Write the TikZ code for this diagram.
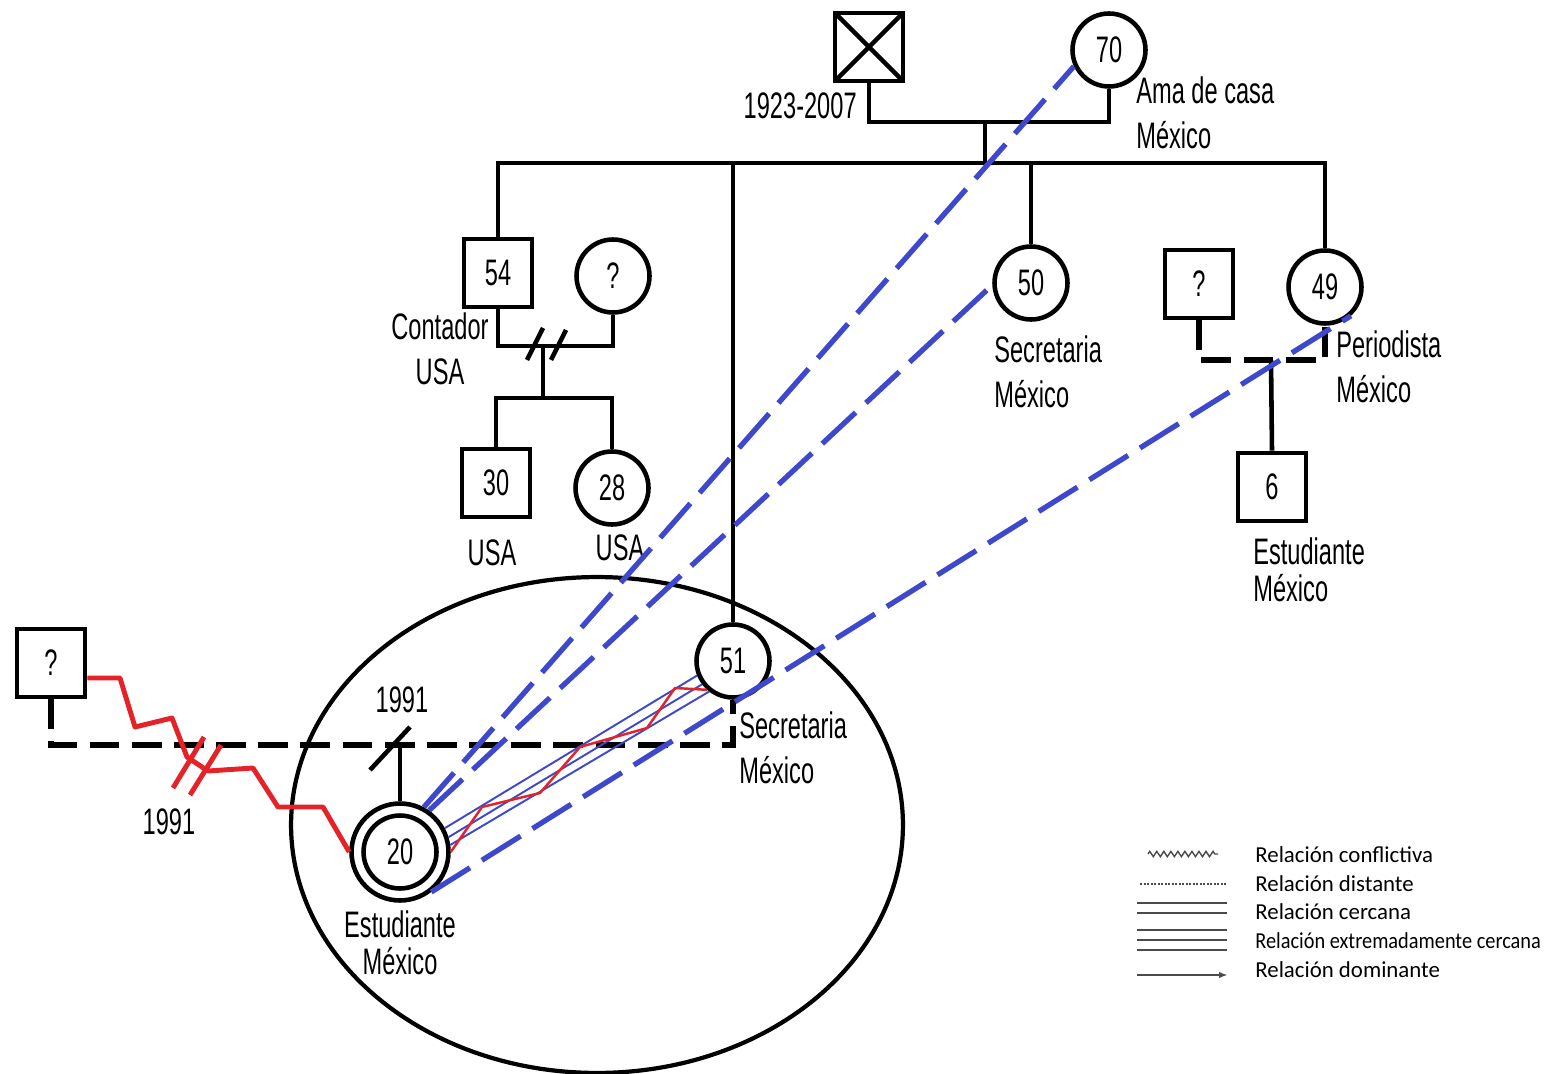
\documentclass[tikz,border=0pt]{standalone}
\usepackage{fontspec}
\setmainfont[FakeStretch=0.64]{Liberation Sans}
\newfontfamily\legfont{Carlito}
\usetikzlibrary{positioning, calc, arrows.meta, decorations.pathmorphing}
\definecolor{relBlue}{RGB}{62, 72, 204}
\definecolor{relRed}{RGB}{228, 34, 40}
\definecolor{legGray}{RGB}{75, 75, 75}
\tikzset{
    x=0.02cm, y=-0.02cm,
    font=\fontsize{21}{25.5}\selectfont,
    %
    % personas
    person/.style={draw, fill=white, line width=2.6pt, inner sep=0pt, align=center},
    male/.style={person, rectangle, minimum size=1.36cm},
    female/.style={person, circle, minimum size=1.46cm},
    dead/.style={male, path picture={
        \draw[line width=2.6pt] (path picture bounding box.north west) -- (path picture bounding box.south east)
                                (path picture bounding box.south west) -- (path picture bounding box.north east);}},
    indexP/.style={person, circle, minimum size=1.94cm},
    lbl/.style={inner sep=0pt, align=left},
    lblTight/.style={lbl, font=\fontsize{21}{21}\selectfont},
    %
    % lineas de parentesco
    kinLine/.style={line width=2.6pt},
    kinDashed/.style={line width=3.2pt, dash pattern=on 17pt off 7pt},
    %
    % relaciones
    relDistant/.style={relBlue, line width=3pt, dash pattern=on 26pt off 8pt},
    relClose/.style={relBlue, line width=1.1pt},
    relConflict/.style={relRed, line width=2.8pt, line join=round},
    relConflictThin/.style={relRed, line width=1.4pt, line join=round},
    %
    % leyenda
    legTxt/.style={inner sep=0pt, anchor=west, font=\legfont\fontsize{13}{15}\selectfont, text=black},
    legLine/.style={legGray, line width=1.1pt}
}

\begin{document}
\begin{tikzpicture}
\useasboundingbox (0,0) rectangle (1558,1074);

% hogar
\draw[line width=2.4pt] (597,825) ellipse [x radius=6.12cm, y radius=4.96cm];

%% personas
\node (gf)  [dead]   at (869,47)   {};
\node (g70) [female] at (1109,50)  {70};
\node (p54) [male]   at (498,273)  {54};
\node (w54) [female] at (613,276)  {?};
\node (p30) [male]   at (496,483)  {30};
\node (p28) [female] at (612,488)  {28};
\node (p50) [female] at (1031,283) {50};
\node (h49) [male]   at (1199,284) {?};
\node (p49) [female] at (1325,287) {49};
\node (p6)  [male]   at (1272,487) {6};
\node (p51) [female] at (733,661)  {51};
\node (h20) [male]   at (51,663)   {?};
\node (p20) [indexP] at (400,852)  {};
\node (p20in) [female] at (p20)    {20};

%% etiquetas
\node (t1923) [lbl, anchor=east] at (857,106)  {1923-2007};
\node (t70)   [lbl, anchor=west] at (1136,113) {Ama de casa\\México};
\node (t54)   [lbl, align=center] at (440,349) {Contador\\USA};
\node (t30)   [lbl] at (492,553) {USA};
\node (t28)   [lbl] at (620,548) {USA};
\node (t50)   [lbl, anchor=west] at (994,372)  {Secretaria\\México};
\node (t49)   [lbl, anchor=west] at (1336,367) {Periodista\\México};
\node (t6)    [lblTight, anchor=west] at (1253,570) {Estudiante\\México};
\node (t51)   [lbl, anchor=west] at (739,748)  {Secretaria\\México};
\node (t20)   [lblTight, align=center, below=0.16cm of p20] {Estudiante\\México};
\node (tsep)  [lbl] at (402,700) {1991};
\node (tdiv)  [lbl] at (169,822) {1991};

%% parentesco
\coordinate (gm)  at (985,122);
\coordinate (sib) at (985,163);
\coordinate (m54) at (543,346);
\coordinate (c54) at (543,398);
\coordinate (m49) at (1271,360);
\coordinate (m20) at (400,745);
\coordinate (div20) at (197,766);

\draw[kinLine] (gf.south) |- (gm) -| (g70.south);
\draw[kinLine] (gm) -- (sib);
\draw[kinLine] (p54.north) |- (sib) -| (p49.north);
\draw[kinLine] (sib) -| (p50.north);
\draw[kinLine] (p51.north) |- (sib);

\draw[kinLine] (p54.south) |- (m54) -| (w54.south);
\draw[kinLine] ($(m54)+(-16,14)$) -- ++(16,-32);   % divorcio
\draw[kinLine] ($(m54)+(8,14)$) -- ++(15,-30);
\draw[kinLine] (m54) -- (c54);
\draw[kinLine] (p30.north) |- (c54) -| (p28.north);

\draw[kinDashed] (h49.south) |- (m49) -| (p49.south);
\draw[kinLine] (m49) -- (p6.north);

\draw[kinDashed] (h20.south) |- (m20) -| (p51.south);
\draw[kinLine] (m20) -- (p20.north);
\draw[kinLine] ($(m20)+(-30,25)$) -- ($(m20)+(10,-18)$);   % separacion 1991

%% relaciones
\draw[relConflict] ($(h20.east)+(0,15)$) -- (120,678) -- (135,727) -- (172,718) -- (187,757)
    -- (208,771) -- (253,768) -- (278,807) -- (323,807) -- (p20.west);
\draw[relConflict] ($(div20)+(-24,22)$) -- ++(31,-51);
\draw[relConflict] ($(div20)+(-7,29)$) -- ++(31,-50);

\draw[relClose] (p20.28) -- (p51.202);
\draw[relClose] (p20.17) -- (p51.217);
\draw[relClose] (p20.8)  -- (p51.232);
\draw[relConflictThin] (p20.east) -- (482,807) -- (540,793) -- (580,747) -- (647,728) -- (675,688) -- (p51.228);

\draw[relDistant] (p20.62)  -- (g70.205);
\draw[relDistant] (p20.55)  -- (p50.183);
\draw[relDistant] (p20.-52) -- (p49.-48);

%% leyenda
\node (lg1) [legTxt] at (1255,855) {Relación conflictiva};
\node (lg2) [legTxt] at (1255,884) {Relación distante};
\node (lg3) [legTxt] at (1255,912) {Relación cercana};
\node (lg4) [legTxt] at (1255,941) {\scalebox{0.89}[1]{Relación extremadamente cercana}};
\node (lg5) [legTxt] at (1255,970) {Relación dominante};

\draw[legLine, line width=0.8pt, decorate, decoration={zigzag, segment length=4pt, amplitude=1.5pt}]
    ($(lg1.west)+(-107,-1)$) -- ($(lg1.west)+(-37,-1)$);
\draw[legLine, dash pattern=on 1.2pt off 0.8pt] ($(lg2.west)+(-115,0)$) -- ($(lg2.west)+(-28,0)$);
\draw[legLine] ($(lg3.west)+(-118,-9)$) -- ($(lg3.west)+(-28,-9)$);
\draw[legLine] ($(lg3.west)+(-118,1)$) -- ($(lg3.west)+(-28,1)$);
\draw[legLine] ($(lg4.west)+(-118,-11)$) -- ($(lg4.west)+(-28,-11)$);
\draw[legLine] ($(lg4.west)+(-118,-1)$) -- ($(lg4.west)+(-28,-1)$);
\draw[legLine] ($(lg4.west)+(-118,9)$) -- ($(lg4.west)+(-28,9)$);
\draw[legLine, -{Latex[length=5pt, width=3.5pt]}] ($(lg5.west)+(-118,5)$) -- ($(lg5.west)+(-27,5)$);

\end{tikzpicture}
\end{document}
